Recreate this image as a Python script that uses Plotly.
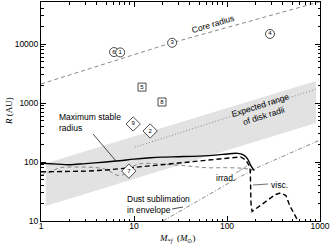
import plotly.graph_objects as go

# ---------------- data ----------------
# expected range of disk radii (grey band) corners
band_M = [1.13, 906, 906, 1.13]
band_R = [18, 460, 2350, 95]

# dotted line inside band
dotted_M = [10.2, 930]
dotted_R = [178, 1740]

# core radius (grey dashed)
core_M = [1, 24, 1000]
core_R = [2100, 10200, 52000]

# maximum stable radius (solid black)
stable_M = [1, 1.5, 2, 3, 5, 7, 10, 15, 20, 30, 50, 80, 100, 130, 150, 165, 180, 195]
stable_R = [95, 92, 90, 94, 100, 105, 112, 118, 121, 123, 126, 132, 137, 140, 132, 115, 88, 72]

# viscous (thick black dashed)
visc_M = [1, 2, 3, 5, 10, 20, 50, 100, 140, 160, 172, 178, 181, 186, 250, 330, 380, 430, 475, 580]
visc_R = [68, 68, 70, 73, 82, 90, 104, 117, 122, 108, 88, 72, 20, 14.5, 20, 28, 30, 27, 18, 10]

# irradiation (thin grey dashed)
irrad_M = [1, 1.3, 1.6, 2, 3, 4, 5, 5.8, 6.5, 7.5, 8.5, 10, 12, 20, 40, 60, 100, 150, 205]
irrad_R = [60, 70, 80, 82, 82, 80, 75, 66, 60, 60, 70, 86, 94, 92, 85, 80, 80, 78, 72]

# dust sublimation in envelope (grey dash-dot)
dust_M = [20.5, 110, 210, 1000]
dust_R = [10, 46, 80, 236]

# numbered objects
circ_M = [6.1, 7.1, 25.7, 290]
circ_R = [7300, 7200, 10500, 14800]
circ_lab = ["6", "1", "3", "4"]

sq_M = [12.2, 20]
sq_R = [1860, 1040]
sq_lab = ["5", "8"]

dia_M = [9.8, 14.9, 8.8]
dia_R = [441, 335, 70]
dia_lab = ["9", "2", "7"]

x_ticks = [1, 10, 100, 1000]
x_ticktext = ["1", "10", "100", "1000"]
y_ticks = [10, 100, 1000, 10000]
y_ticktext = ["10", "100", "1000", "10000"]
x_minor = [m * d for d in (1, 10, 100) for m in range(2, 10)]
y_minor = [m * d for d in (10, 100, 1000, 10000) for m in range(2, 10)]

# ---------------- geometry helpers (pixel -> data / paper) ----------------
L, R_, T, B = 41, 320, 2, 221
def px2data(px, py):
    return 10 ** ((px - L) / 93.0), 10 ** (1 + (B - py) / 59.0)
def px2paper(px, py):
    return (px - L) / (R_ - L), (B - py) / (B - T)

GREY = "#7a7a7a"
fig = go.Figure()

fig.add_trace(go.Scatter(x=band_M, y=band_R, fill="toself", fillcolor="#e2e2e2",
                         line=dict(width=0), mode="lines", hoverinfo="skip"))
fig.add_trace(go.Scatter(x=dotted_M, y=dotted_R, mode="lines",
                         line=dict(color=GREY, width=0.9, dash="1px,2px")))
fig.add_trace(go.Scatter(x=core_M, y=core_R, mode="lines",
                         line=dict(color=GREY, width=0.9, dash="4px,3px")))
fig.add_trace(go.Scatter(x=dust_M, y=dust_R, mode="lines",
                         line=dict(color=GREY, width=0.9, dash="4px,2px,1px,2px")))
fig.add_trace(go.Scatter(x=irrad_M, y=irrad_R, mode="lines", line_shape="spline",
                         line=dict(color=GREY, width=0.9, dash="4px,3px")))
fig.add_trace(go.Scatter(x=stable_M, y=stable_R, mode="lines", line_shape="spline",
                         line=dict(color="black", width=1.4)))
fig.add_trace(go.Scatter(x=visc_M, y=visc_R, mode="lines",
                         line=dict(color="black", width=1.4, dash="5px,3px")))

mk_font = dict(family="Liberation Sans", size=6, color="black")
fig.add_trace(go.Scatter(x=circ_M, y=circ_R, mode="markers+text", text=circ_lab,
                         textposition="middle center", textfont=mk_font,
                         marker=dict(symbol="circle", size=9, color="white",
                                     line=dict(color="black", width=0.7))))
fig.add_trace(go.Scatter(x=sq_M, y=sq_R, mode="markers+text", text=sq_lab,
                         textposition="middle center", textfont=mk_font,
                         marker=dict(symbol="square", size=8, color="white",
                                     line=dict(color="black", width=0.7))))
fig.add_trace(go.Scatter(x=dia_M, y=dia_R, mode="markers+text", text=dia_lab,
                         textposition="middle center", textfont=mk_font,
                         marker=dict(symbol="diamond", size=11, color="white",
                                     line=dict(color="black", width=0.7))))

# pointer lines
def pointer(p0, p1, color):
    a = px2data(*p0); b = px2data(*p1)
    fig.add_trace(go.Scatter(x=[a[0], b[0]], y=[a[1], b[1]], mode="lines",
                             line=dict(color=color, width=0.7), hoverinfo="skip"))
pointer((93, 134), (116, 161), "black")
pointer((236, 173), (247, 166), GREY)
pointer((253, 185), (268, 184), "#333333")
pointer((172, 209), (183, 207), "black")

ann = []
def label(text, px, py, angle=0, xanchor="center", size=8.5, family="Liberation Sans", align="left"):
    xp, yp = px2paper(px, py)
    ann.append(dict(text=text, x=xp, y=yp, xref="paper", yref="paper", showarrow=False,
                    xanchor=xanchor, yanchor="middle", textangle=angle, align=align,
                    font=dict(family=family, size=size, color="black")))

label("Core radius", 213, 24, angle=-17)
label("Expected range<br>of disk radii", 262, 110, angle=-17.7, align="center")
label("Maximum stable<br>radius", 57, 122, xanchor="left")
label("irrad.", 225, 178)
label("visc.", 269, 185, xanchor="left")
label("Dust sublimation<br>in envelope", 125, 204, xanchor="left")
label("<i>R</i> (AU)", 9, 111, angle=-90, family="Liberation Serif", size=9)
label("<i>M</i><sub>*<i>f</i></sub>  (<i>M</i><sub>⊙</sub>)", 177, 238, family="Liberation Serif", size=9)

axis_common = dict(type="log", showgrid=False, zeroline=False, showline=True,
                   linecolor="black", linewidth=1, mirror="ticks", ticks="inside",
                   ticklen=5, tickwidth=0.8, tickcolor="black",
                   tickfont=dict(family="Liberation Sans", size=8.5, color="black"))
fig.update_xaxes(**axis_common, range=[0, 3], tickvals=x_ticks, ticktext=x_ticktext,
                 ticklabelstandoff=-3,
                 minor=dict(tickvals=x_minor, ticks="inside", ticklen=2.5,
                            tickcolor="black", tickwidth=0.6, showgrid=False))
fig.update_yaxes(**axis_common, range=[1, 1 + (B - T) / 59.0], tickvals=y_ticks,
                 ticktext=y_ticktext,
                 minor=dict(tickvals=y_minor, ticks="inside", ticklen=2.5,
                            tickcolor="black", tickwidth=0.6, showgrid=False))

fig.update_layout(width=333, height=246, margin=dict(l=L, r=333 - R_, t=T, b=246 - B),
                  plot_bgcolor="white", paper_bgcolor="white", showlegend=False,
                  annotations=ann, font=dict(family="Liberation Sans", size=8.5))

fig.write_html("out.html", config={"displayModeBar": False},
               post_script="document.body.style.margin='0';document.body.style.overflow='hidden';")
